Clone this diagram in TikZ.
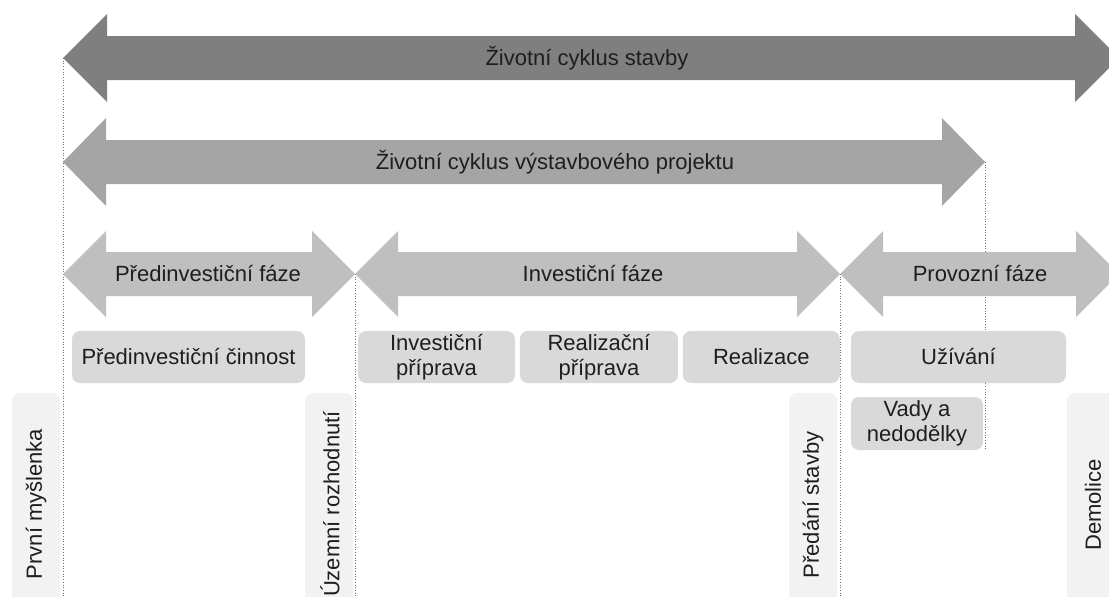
\documentclass[tikz,border=0pt]{standalone}
\usepackage{fontspec}
\setmainfont{Liberation Sans}
\usetikzlibrary{positioning}

\definecolor{txt}{HTML}{1E1E1E}
\definecolor{arrA}{HTML}{7F7F7F}
\definecolor{arrB}{HTML}{A5A5A5}
\definecolor{arrC}{HTML}{BFBFBF}
\definecolor{boxg}{HTML}{D9D9D9}
\definecolor{mstg}{HTML}{F2F2F2}

% double arrow: colour, left tip, right tip, mid y, shaft half, head half, head length
\newcommand{\dblarr}[7]{%
  \fill[#1] (#2,#4) -- ({#2+#7},{#4-#6}) -- ({#2+#7},{#4-#5}) -- ({#3-#7},{#4-#5})
    -- ({#3-#7},{#4-#6}) -- (#3,#4) -- ({#3-#7},{#4+#6}) -- ({#3-#7},{#4+#5})
    -- ({#2+#7},{#4+#5}) -- ({#2+#7},{#4+#6}) -- cycle;}
% milestone strip: left x, right x
\newcommand{\milest}[2]{%
  \fill[mstg, rounded corners=8pt] (#1,620) -- (#1,393) -- (#2,393) -- (#2,620) -- cycle;}

\begin{document}
\begin{tikzpicture}[x=1pt,y=-1pt,
  lbl/.style={font=\fontsize{22}{25.5}\selectfont, text=txt, inner sep=0pt},
  actv/.style={lbl, fill=boxg, rounded corners=8pt, minimum height=52pt, align=center},
  mst/.style={lbl, rotate=90},
  sep/.style={black!55, dotted, line width=0.7pt},
  node distance=4.5pt]

\useasboundingbox (0,0) rectangle (1109,597);
\clip (0,0) rectangle (1109,597);

% tips of the arrows
\coordinate (tstav) at (63,58);
\coordinate (tproj) at (985,162);
\coordinate (tuzem) at (355,274);
\coordinate (tpred) at (840,274);

% separators
\draw[sep] (tstav) -- (tstav |- 0,597);
\draw[sep] (tuzem) -- (tuzem |- 0,597);
\draw[sep] (tpred) -- (tpred |- 0,597);
\draw[sep] (tproj) -- (tproj |- 0,450);

% arrows
\dblarr{arrA}{63}{1119}{58}{22}{44}{44}
\dblarr{arrB}{63}{985}{162}{22}{44}{43}
\dblarr{arrC}{63}{355}{274}{22}{43}{43}
\dblarr{arrC}{355}{840}{274}{22}{43}{43}
\dblarr{arrC}{840}{1119}{274}{22}{43}{43}

\node[lbl] (zcs)  at (587,58)  {Životní cyklus stavby};
\node[lbl] (zcvp) at (555,162) {Životní cyklus výstavbového projektu};
\node[lbl] (pif)  at (208,274) {Předinvestiční fáze};
\node[lbl] (inf)  at (593,274) {Investiční fáze};
\node[lbl] (prf)  at (980,274) {Provozní fáze};

% activities
\node[actv, minimum width=233pt] (pic)   at (188.5,357) {Předinvestiční činnost};
\node[actv, minimum width=157pt] (invp)  at (436.5,357) {Investiční\\příprava};
\node[actv, minimum width=158pt] (realp) [right=of invp] {Realizační\\příprava};
\node[actv, minimum width=157pt] (real)  [right=of realp] {Realizace};
\node[actv, minimum width=215pt] (uziv)  at (958.5,357) {Užívání};
\node[actv, minimum width=132pt, minimum height=53pt] (vady) at (917,423.5) {Vady a\\nedodělky};

% milestones
\milest{12}{60}
\milest{305}{353}
\milest{789}{837}
\milest{1067}{1125}
\node[mst] (prvm) at (36,504)   {První myšlenka};
\node[mst] (uzro) at (330,504)  {Územní rozhodnutí};
\node[mst] (pres) at (813,505)  {Předání stavby};
\node[mst] (demo) at (1093,505) {Demolice};
\end{tikzpicture}
\end{document}
